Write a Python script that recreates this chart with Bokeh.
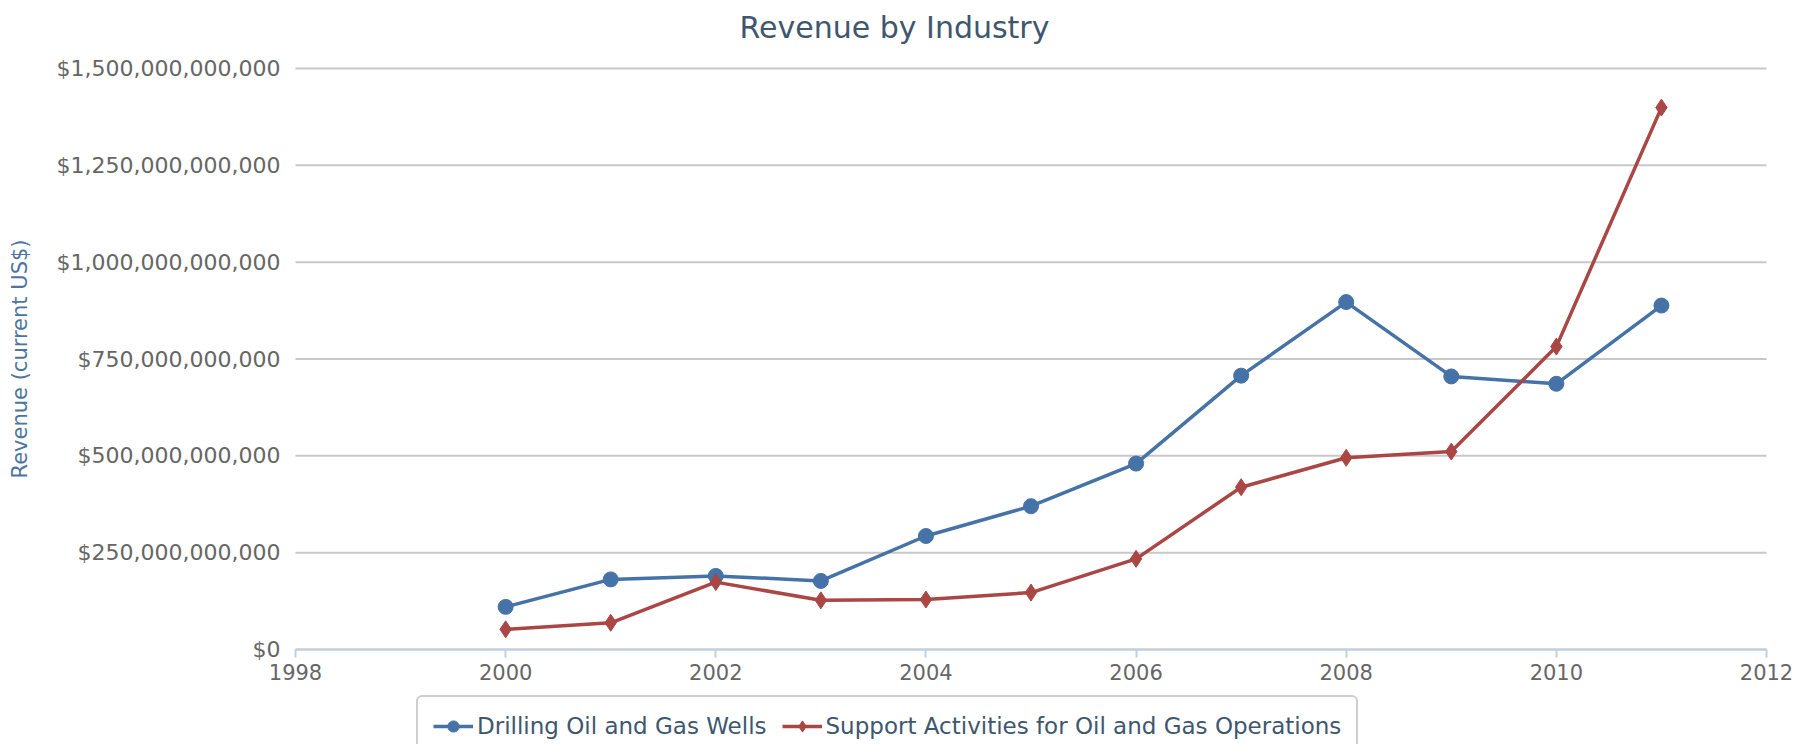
from bokeh.plotting import figure
from bokeh.models import Range1d, FixedTicker, NumeralTickFormatter, Legend, LegendItem, Label
from bokeh.embed import file_html
from bokeh.resources import INLINE

# ---- data ----
years = [2000, 2001, 2002, 2003, 2004, 2005, 2006, 2007, 2008, 2009, 2010, 2011]
drilling = [110e9, 181e9, 190e9, 177e9, 293e9, 370e9, 480e9, 707e9, 897e9, 705e9, 686e9, 888e9]
support = [52e9, 69e9, 174e9, 127e9, 129e9, 147e9, 234e9, 419e9, 495e9, 511e9, 782e9, 1399e9]
series_names = ["Drilling Oil and Gas Wells", "Support Activities for Oil and Gas Operations"]
x_ticks = [1998, 2000, 2002, 2004, 2006, 2008, 2010, 2012]
y_ticks = [0, 250e9, 500e9, 750e9, 1000e9, 1250e9, 1500e9]
title_text = "Revenue by Industry"
y_title = "Revenue (current US$)"

BLUE = "#4572A7"
RED = "#AA4643"
FONT = "DejaVu Sans"

# layout (pixels): the drawing area is the whole canvas; the axes sit at fixed places in it
W, H = 1806, 744
X0_PX, X1_PX = 295, 1766      # pixel columns of the first and last x tick
Y0_PX, YTOP_PX = 649, 68      # pixel rows of value 0 and of the top tick
xper = (x_ticks[-1] - x_ticks[0]) / (X1_PX - X0_PX)
yper = (y_ticks[-1] - y_ticks[0]) / (Y0_PX - YTOP_PX)
x_start = x_ticks[0] - X0_PX * xper
x_end = x_ticks[-1] + (W - X1_PX) * xper
y_start = y_ticks[0] - (H - Y0_PX) * yper
y_end = y_ticks[-1] + YTOP_PX * yper

p = figure(width=W, height=H, output_backend="svg", toolbar_location=None,
           x_range=Range1d(x_start, x_end), y_range=Range1d(y_start, y_end),
           min_border_left=0, min_border_right=0, min_border_top=0, min_border_bottom=0)
p.outline_line_color = None
p.background_fill_color = "white"
p.border_fill_color = "white"
p.xgrid.grid_line_color = None
p.ygrid.grid_line_color = None

# horizontal grid lines spanning the x tick range
n = len(y_ticks)
p.segment(x0=[x_ticks[0]] * n, y0=y_ticks, x1=[x_ticks[-1]] * n, y1=y_ticks,
          line_color="#C8C8C8", line_width=2)

# x axis
p.xaxis.fixed_location = 0
p.xaxis.bounds = (x_ticks[0], x_ticks[-1])
p.xaxis.ticker = FixedTicker(ticks=x_ticks)
p.xaxis.axis_line_color = "#C0D0E0"
p.xaxis.axis_line_width = 2
p.xaxis.major_tick_line_color = "#C0D0E0"
p.xaxis.major_tick_line_width = 2
p.xaxis.major_tick_out = 8
p.xaxis.major_tick_in = 0
p.xaxis.minor_tick_line_color = None
p.xaxis.major_label_standoff = 6
p.xaxis.major_label_text_font = FONT
p.xaxis.major_label_text_font_size = "21px"
p.xaxis.major_label_text_color = "#666666"

# y axis
p.yaxis.fixed_location = x_ticks[0]
p.yaxis.bounds = (y_ticks[0], y_ticks[-1])
p.yaxis.ticker = FixedTicker(ticks=y_ticks)
p.yaxis.formatter = NumeralTickFormatter(format="$0,0")
p.yaxis.axis_line_color = None
p.yaxis.major_tick_line_color = None
p.yaxis.minor_tick_line_color = None
p.yaxis.major_tick_in = 0
p.yaxis.major_tick_out = 0
p.yaxis.major_label_standoff = 15
p.yaxis.major_label_text_font = FONT
p.yaxis.major_label_text_font_size = "22px"
p.yaxis.major_label_text_color = "#666666"
p.yaxis.axis_label = y_title
p.yaxis.axis_label_text_font = FONT
p.yaxis.axis_label_text_font_size = "21px"
p.yaxis.axis_label_text_font_style = "normal"
p.yaxis.axis_label_text_color = "#4D759E"
p.yaxis.axis_label_standoff = 22

# title
p.add_layout(Label(x=894, y=H - 27, x_units="screen", y_units="screen", text=title_text,
                   text_font=FONT, text_font_size="30px", text_color="#3E576F",
                   text_align="center", text_baseline="alphabetic"))

# series
l1 = p.line(years, drilling, line_color=BLUE, line_width=3.5)
m1 = p.scatter(years, drilling, marker="circle", size=15, fill_color=BLUE, line_color=BLUE)
l2 = p.line(years, support, line_color=RED, line_width=3.5)
m2 = p.scatter(years, support, marker="diamond", size=17, fill_color=RED, line_color=RED)

legend = Legend(items=[LegendItem(label=series_names[0], renderers=[l1, m1]),
                       LegendItem(label=series_names[1], renderers=[l2, m2])],
                orientation="horizontal", location=(416, -13),
                glyph_width=40, glyph_height=28, label_standoff=4, spacing=15, padding=15,
                margin=0,
                label_text_font=FONT, label_text_font_size="23px", label_text_color="#3E576F",
                border_line_color="#A0A0A0", border_line_width=2,
                background_fill_color="white", background_fill_alpha=1.0)
try:
    legend.border_radius = 6
except Exception:
    pass
p.add_layout(legend)

open("out.html", "w").write(file_html(p, INLINE))
